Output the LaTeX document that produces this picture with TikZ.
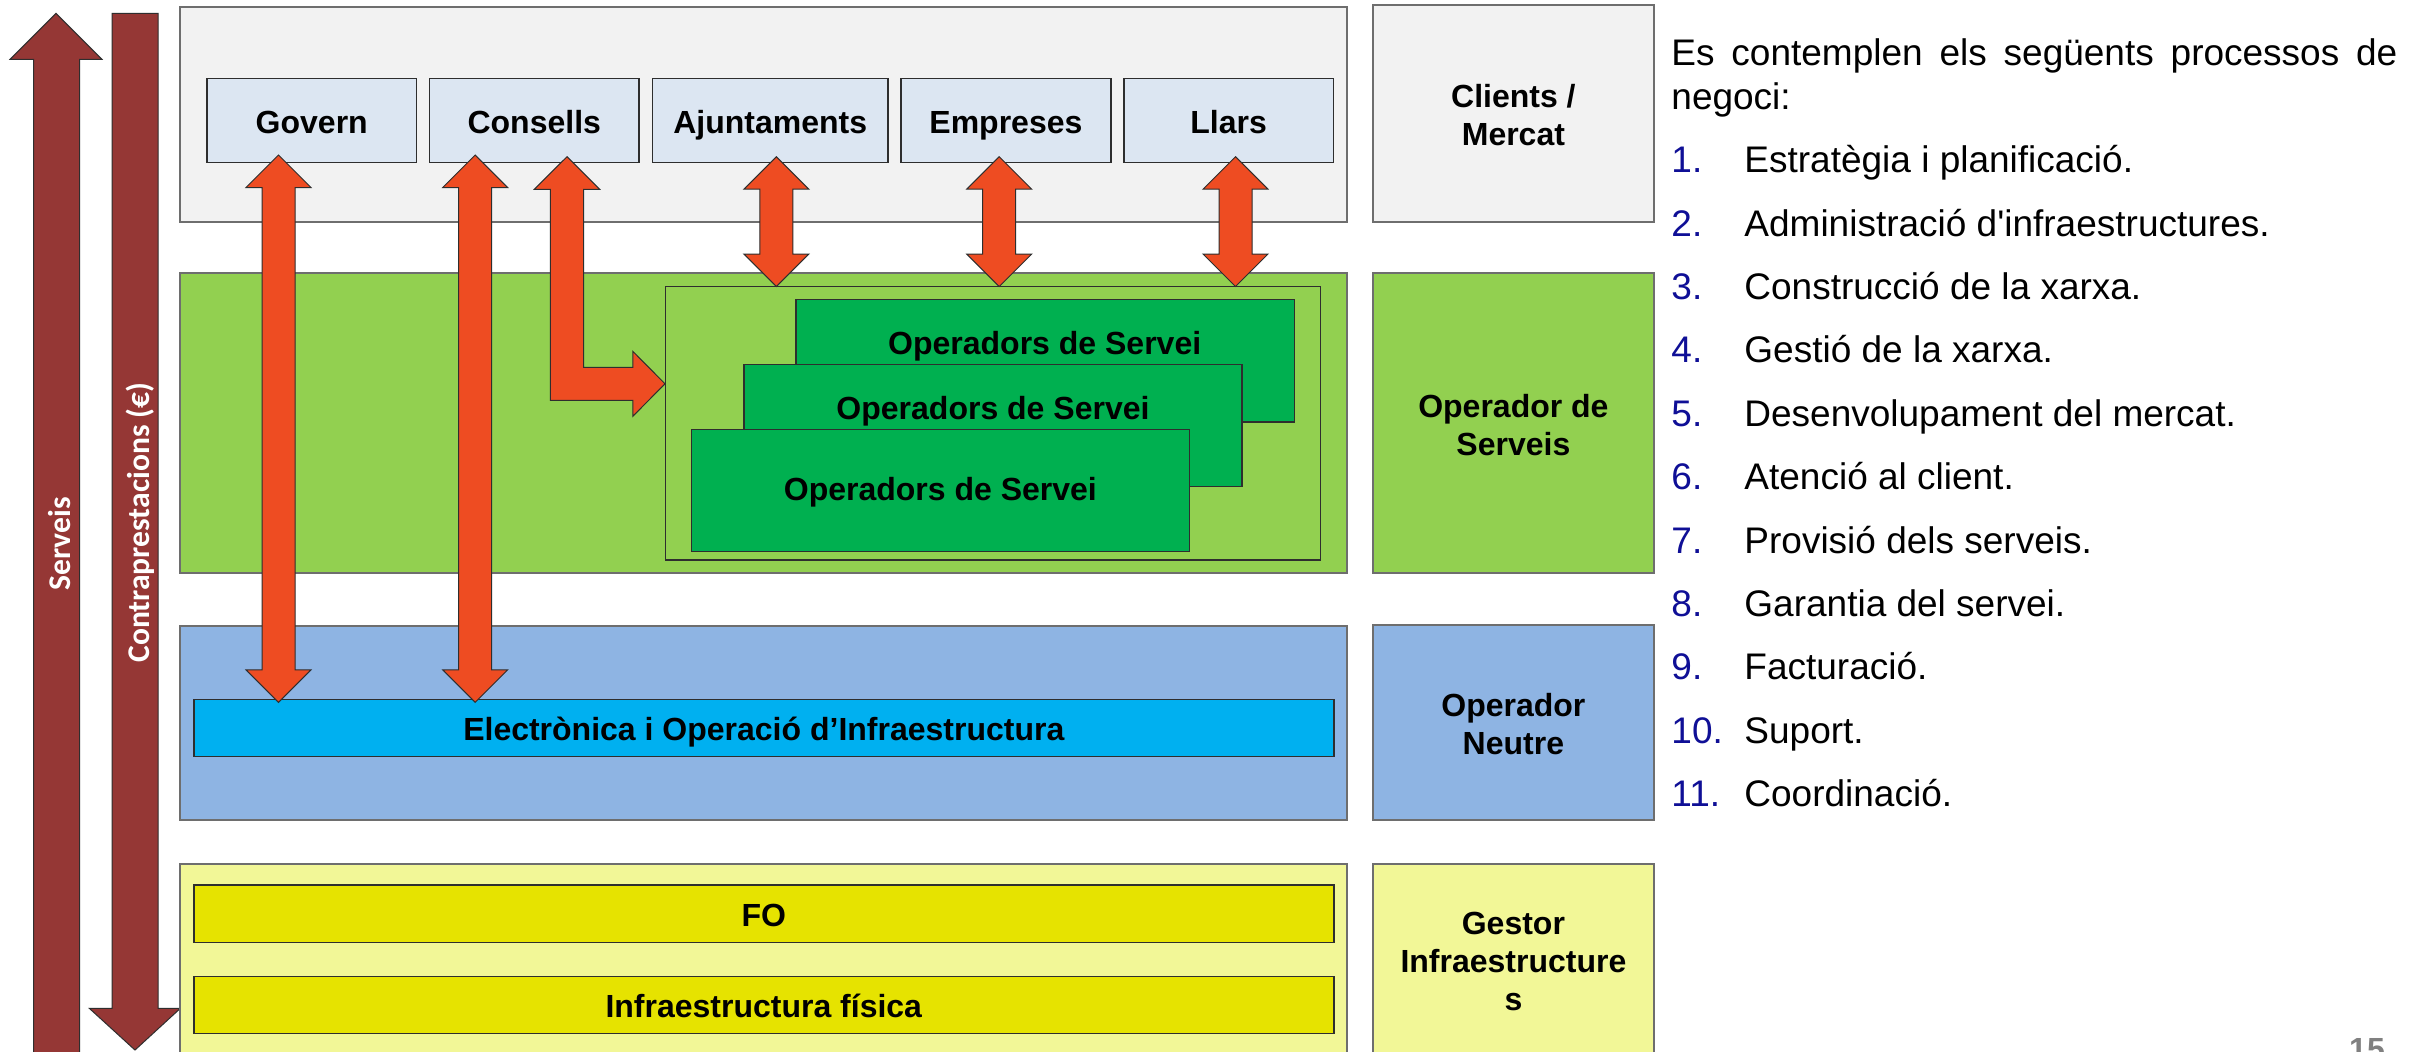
\documentclass[tikz,border=0pt]{standalone}
\usepackage{fontspec}
\setmainfont{Liberation Sans}
\newfontfamily\calibfont{Carlito}
\usetikzlibrary{fit}
\definecolor{panelgray}{HTML}{F2F2F2}
\definecolor{panelline}{HTML}{6E6E6E}
\definecolor{boxline}{HTML}{2E2E2E}
\definecolor{clientblue}{HTML}{DCE6F2}
\definecolor{lgreen}{HTML}{92D050}
\definecolor{dgreen}{HTML}{00B050}
\definecolor{nblue}{HTML}{8EB4E3}
\definecolor{cyanbox}{HTML}{00B0F0}
\definecolor{lyellow}{HTML}{F2F797}
\definecolor{dyellow}{HTML}{E6E300}
\definecolor{arrorange}{HTML}{EE4C22}
\definecolor{arrbrown}{HTML}{953735}
\definecolor{numblue}{RGB}{15,15,150}
\newcommand\rbox[6]{\node[#1, fit={(#3,#4) (#5,#6)}] (#2) {};}
\newcommand\vdarrow[3]{\draw[blockarr] (#1,#2) -- ({#1+32.5},{#2+32.5}) -- ({#1+16.5},{#2+32.5}) -- ({#1+16.5},{#3-32.5}) -- ({#1+32.5},{#3-32.5}) -- (#1,#3) -- ({#1-32.5},{#3-32.5}) -- ({#1-16.5},{#3-32.5}) -- ({#1-16.5},{#2+32.5}) -- ({#1-32.5},{#2+32.5}) -- cycle;}
\begin{document}
\begin{tikzpicture}[x=0.5pt,y=-0.5pt,
  panel/.style={draw=panelline, line width=1pt, inner sep=0pt},
  inbox/.style={draw=boxline, line width=0.7pt, inner sep=0pt},
  lbl/.style={font=\fontsize{16}{19}\selectfont\bfseries, align=center, inner sep=0pt},
  lbl1/.style={font=\fontsize{16}{19}\selectfont\bfseries, inner sep=0pt, anchor=base, yshift=-6.25pt},
  blockarr/.style={fill=arrorange, draw=boxline, line width=0.5pt, line join=miter},
  brownarr/.style={fill=arrbrown, draw=boxline, line width=0.5pt, line join=miter},
  vlbl/.style={font=\calibfont\fontsize{15.8}{18}\selectfont\bfseries, text=white, rotate=90, inner sep=0pt},
  txt/.style={font=\fontsize{18.5}{22}\selectfont, anchor=base west, inner sep=0pt},
  num/.style={font=\fontsize{18.5}{22}\selectfont, text=numblue, anchor=base west, inner sep=0pt}]
\useasboundingbox (0,0) rectangle (2428,1051);
\fill[white] (0,0) rectangle (2428,1051);

% left brown arrows
\draw[brownarr] (56,13.3) -- (102,59.3) -- (79.5,59.3) -- (79.5,1060) -- (33.5,1060) -- (33.5,59.3) -- (10,59.3) -- cycle;
\draw[brownarr] (112,13.3) -- (158,13.3) -- (158,1008.3) -- (180.4,1008.3) -- (135,1050) -- (89.3,1008.3) -- (112,1008.3) -- cycle;
\node[vlbl] (serveisarr) at (59.5,544) {Serveis};
\node[vlbl] (contraarr) at (140,522.5) {Contraprestacions (€)};

% layer panels
\rbox{panel, fill=panelgray}{clientspanel}{180.4}{6.7}{1346.6}{221.7}
\rbox{panel, fill=lgreen}{operpanel}{180.4}{273.3}{1346.6}{572.7}
\rbox{panel, fill=nblue}{neutrepanel}{180.4}{625.7}{1346.6}{820}
\rbox{panel, fill=lyellow}{gestorpanel}{180.4}{863.7}{1346.6}{1070}

% right column
\rbox{panel, fill=panelgray}{clientsbox}{1372.7}{4.7}{1654}{221.7}
\rbox{panel, fill=lgreen}{operbox}{1372.7}{273.3}{1654}{572.7}
\rbox{panel, fill=nblue}{neutrebox}{1372.7}{624.7}{1654}{819.8}
\rbox{panel, fill=lyellow}{gestorbox}{1372.7}{863.7}{1654}{1070}
\node[lbl] (clientslbl) at (1513.4,115) {Clients /\\Mercat};
\node[lbl] (operlbl) at (1513.4,425.5) {Operador de\\Serveis};
\node[lbl] (neutrelbl) at (1513.4,724.5) {Operador\\Neutre};
\node[lbl] (gestorlbl) at (1513.4,961) {Gestor\\Infraestructure\\s};

% clients boxes
\rbox{inbox, fill=clientblue}{govern}{207}{78.7}{416.5}{162.3}
\rbox{inbox, fill=clientblue}{consells}{429.5}{78.7}{639}{162.3}
\rbox{inbox, fill=clientblue}{ajunt}{652.3}{78.7}{888}{162.3}
\rbox{inbox, fill=clientblue}{empreses}{901}{78.7}{1110.8}{162.3}
\rbox{inbox, fill=clientblue}{llars}{1123.8}{78.7}{1333.4}{162.3}
\node[lbl1] (governlbl) at (govern.center) {Govern};
\node[lbl1] (consellslbl) at (consells.center) {Consells};
\node[lbl1] (ajuntlbl) at (ajunt.center) {Ajuntaments};
\node[lbl1] (empreseslbl) at (empreses.center) {Empreses};
\node[lbl1] (llarslbl) at (llars.center) {Llars};

% operators
\rbox{inbox, fill=lgreen}{opcont}{665.3}{286.7}{1320.6}{560}
\rbox{inbox, fill=dgreen}{opa}{796}{299.7}{1294.6}{422}
\rbox{inbox, fill=dgreen}{opb}{743.9}{364.3}{1242}{486.7}
\rbox{inbox, fill=dgreen}{opc}{691.3}{429.3}{1189.4}{551.7}
\node[lbl1, yshift=6.25pt] (opalbl) at (1044.7,354.8) {Operadors de Servei};
\node[lbl1, yshift=6.25pt] (opblbl) at (993,419.5) {Operadors de Servei};
\node[lbl1, yshift=6.25pt] (opclbl) at (940.4,500.8) {Operadors de Servei};

% neutral operator
\rbox{inbox, fill=cyanbox}{electro}{193.8}{699.3}{1333.8}{756.3}
\node[lbl1] (electrolbl) at (electro.center) {Electrònica i Operació d’Infraestructura};

% infrastructure
\rbox{inbox, fill=dyellow}{fo}{193.8}{885}{1333.8}{942.3}
\rbox{inbox, fill=dyellow}{infra}{193.8}{976.7}{1333.8}{1033.3}
\node[lbl1] (folbl) at (fo.center) {FO};
\node[lbl1] (infralbl) at (infra.center) {Infraestructura física};

% orange arrows
\vdarrow{278.5}{155}{702.3}
\vdarrow{475.2}{155}{702.3}
\vdarrow{776.4}{156.7}{286.5}
\vdarrow{999.2}{156.7}{286.5}
\vdarrow{1235.5}{156.7}{286.5}
\draw[blockarr] (567,156.7) -- (599.7,189.3) -- (583.5,189.3) -- (583.5,367.3) -- (632.8,367.3) -- (632.8,351.3) -- (665,383.8) -- (632.8,416.3) -- (632.8,400.3) -- (550.4,400.3) -- (550.4,189.3) -- (534.3,189.3) -- cycle;

% right text
\node[txt] (intro1) at (1671,65) {\makebox[363pt][s]{Es contemplen els següents processos de}};
\node[txt] (intro2) at (1671,109.3) {negoci:};
\foreach \i/\t in {1/Estratègia i planificació.,2/Administració d\textquotesingle infraestructures.,3/Construcció de la xarxa.,4/Gestió de la xarxa.,5/Desenvolupament del mercat.,6/Atenció al client.,7/Provisió dels serveis.,8/Garantia del servei.,9/Facturació.,10/Suport.,11/Coordinació.}{
  \node[num] (n\i) at (1671,{172.7+63.4*(\i-1)}) {\i.};
  \node[txt] (t\i) at (1744,{172.7+63.4*(\i-1)}) {\t};
}

% page number (cut by the page edge, as in the reference)
\node[font=\fontsize{16}{19}\selectfont\bfseries, text=gray, anchor=base, inner sep=0pt] (pagenum) at (2367,1060) {15};
\end{tikzpicture}
\end{document}
